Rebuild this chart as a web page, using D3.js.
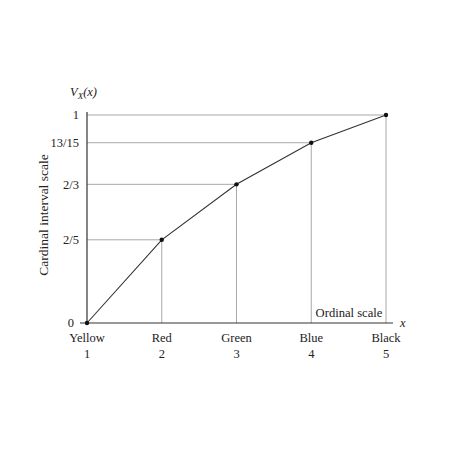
<!DOCTYPE html>
<html><head><meta charset="utf-8">
<script src="https://cdn.jsdelivr.net/npm/d3@7"></script>
<style>body{margin:0;background:#fff}text{font-family:"Liberation Serif","DejaVu Serif",serif;fill:#222}</style>
</head><body><svg id="c" width="450" height="450"></svg>
<script>
const categories = ["Yellow","Red","Green","Blue","Black"];
const ranks = [1,2,3,4,5];
const values = [0, 2/5, 2/3, 13/15, 1];
const yTickValues = [0, 2/5, 2/3, 13/15, 1];
const yTickLabels = ["0","2/5","2/3","13/15","1"];

const svg = d3.select("#c");
const x = d3.scaleLinear().domain([1,5]).range([87,386]);
const y = d3.scaleLinear().domain([0,1]).range([323,115]);
const gray = "#a8a8a8", dark = "#333";

// guide lines
values.forEach((v,i)=>{
  if(i===0) return;
  svg.append("line").attr("x1",x(1)).attr("x2",x(ranks[i])).attr("y1",y(v)).attr("y2",y(v))
    .attr("stroke",gray).attr("stroke-width",1);
  svg.append("line").attr("x1",x(ranks[i])).attr("x2",x(ranks[i])).attr("y1",y(v)).attr("y2",y(0))
    .attr("stroke",gray).attr("stroke-width",1);
});

// axes
svg.append("line").attr("x1",x(1)-7).attr("x2",393).attr("y1",y(0)).attr("y2",y(0)).attr("stroke",dark).attr("stroke-width",1.2);
svg.append("line").attr("x1",x(1)).attr("x2",x(1)).attr("y1",y(0)).attr("y2",y(1)-3).attr("stroke",dark).attr("stroke-width",1.2);

yTickValues.forEach((v,i)=>{
  svg.append("text").attr("x",v===0 ? x(1)-13 : x(1)-8).attr("y",y(v)).attr("dy","0.35em").attr("text-anchor","end")
    .attr("font-size",12.5).text(yTickLabels[i]);
});

categories.forEach((c,i)=>{
  svg.append("text").attr("x",x(ranks[i])).attr("y",342).attr("text-anchor","middle").attr("font-size",12.5).text(c);
  svg.append("text").attr("x",x(ranks[i])).attr("y",358).attr("text-anchor","middle").attr("font-size",12.5).text(ranks[i]);
});

// line
const line = d3.line().x((d,i)=>x(ranks[i])).y(d=>y(d));
svg.append("path").datum(values).attr("d",line).attr("fill","none").attr("stroke",dark).attr("stroke-width",1.1);
svg.selectAll("circle.p").data(values).join("circle").attr("cx",(d,i)=>x(ranks[i])).attr("cy",d=>y(d)).attr("r",2.2).attr("fill","#111");

// labels
svg.append("text").attr("x",400).attr("y",y(0)).attr("dy","0.3em").attr("font-size",12.5).attr("font-style","italic").text("x");
svg.append("text").attr("x",349).attr("y",317).attr("text-anchor","middle").attr("font-size",12.6).text("Ordinal scale");
svg.append("text").attr("transform","translate(48,215) rotate(-90)").attr("text-anchor","middle").attr("font-size",13.5).text("Cardinal interval scale");
const vt = svg.append("text").attr("x",70).attr("y",96).attr("font-size",12.5).attr("font-style","italic");
vt.append("tspan").text("V");
vt.append("tspan").attr("font-size",9).attr("dy",3).text("X");
vt.append("tspan").attr("dy",-3).text("(x)");
</script></body></html>
